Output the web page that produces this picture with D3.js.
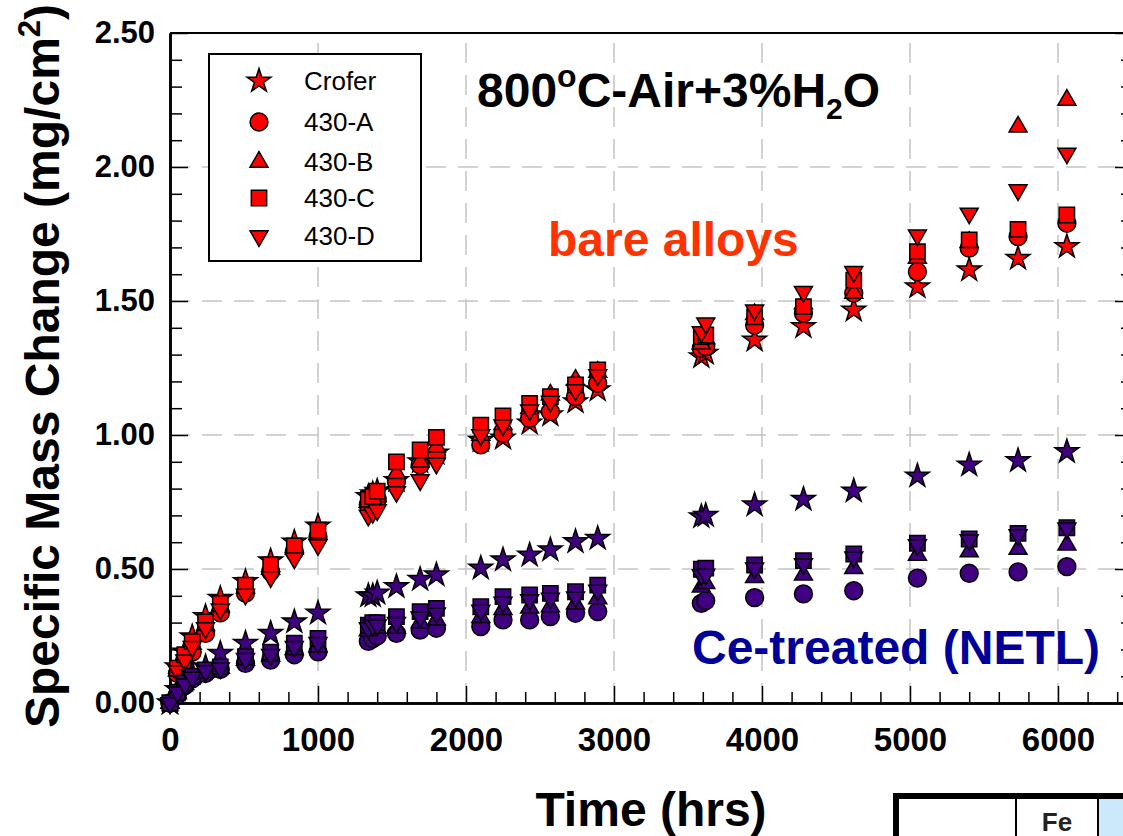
<!DOCTYPE html>
<html>
<head>
<meta charset="utf-8">
<script src="https://cdn.jsdelivr.net/npm/d3@7"></script>
<style>
body { margin: 0; background: #fff; }
text { font-family: "Liberation Sans", Arial, sans-serif; }
</style>
</head>
<body>
<div id="chart"></div>
<script>
// Exposure times (hrs), shared by every series
var times = [0, 50, 100, 150, 240, 340, 510, 680, 840, 1000, 1340, 1370, 1400, 1530, 1690, 1800,
    2100, 2250, 2430, 2570, 2740, 2890, 3590, 3620, 3950, 4280, 4620, 5050, 5400, 5730, 6060];

var seriesNames = ['Crofer', '430-A', '430-B', '430-C', '430-D'];

// bare alloys (mg/cm2)
var bareCrofer = [0, 0.135, 0.19, 0.247, 0.322, 0.39, 0.453, 0.53, 0.60, 0.66, 0.77, 0.78, 0.79, 0.83, 0.90, 0.932,
    0.98, 0.988, 1.044, 1.075, 1.124, 1.168, 1.292, 1.305, 1.354, 1.404, 1.466, 1.553, 1.616, 1.659, 1.703];
var bareA = [0, 0.11, 0.15, 0.19, 0.26, 0.336, 0.41, 0.49, 0.565, 0.62, 0.74, 0.75, 0.76, 0.826, 0.888, 0.925,
    0.963, 1.006, 1.062, 1.087, 1.143, 1.193, 1.323, 1.33, 1.41, 1.454, 1.529, 1.609, 1.697, 1.74, 1.79];
var bareB = [0, 0.12, 0.17, 0.22, 0.29, 0.36, 0.43, 0.50, 0.575, 0.63, 0.75, 0.76, 0.77, 0.857, 0.90, 0.956,
    1.0, 1.04, 1.10, 1.15, 1.205, 1.235, 1.34, 1.36, 1.45, 1.49, 1.53, 1.66, 1.72, 2.15, 2.25];
var bareC = [0, 0.13, 0.18, 0.229, 0.303, 0.372, 0.44, 0.515, 0.586, 0.645, 0.76, 0.77, 0.79, 0.90, 0.944, 0.991,
    1.037, 1.071, 1.118, 1.143, 1.187, 1.243, 1.367, 1.373, 1.441, 1.479, 1.578, 1.684, 1.728, 1.767, 1.821];
var bareD = [0, 0.12, 0.16, 0.21, 0.28, 0.35, 0.405, 0.47, 0.54, 0.59, 0.70, 0.71, 0.72, 0.788, 0.832, 0.894,
    1.0, 1.037, 1.093, 1.125, 1.168, 1.224, 1.385, 1.417, 1.466, 1.535, 1.609, 1.746, 1.827, 1.914, 2.051];

// Ce-treated (NETL)
var ceCrofer = [0, 0.05, 0.085, 0.11, 0.135, 0.185, 0.223, 0.26, 0.303, 0.335, 0.40, 0.40, 0.41, 0.434, 0.461, 0.478,
    0.503, 0.534, 0.552, 0.571, 0.602, 0.614, 0.695, 0.70, 0.739, 0.76, 0.791, 0.847, 0.888, 0.904, 0.938];
var ceA = [0, 0.03, 0.065, 0.09, 0.11, 0.125, 0.148, 0.16, 0.18, 0.191, 0.23, 0.24, 0.25, 0.26, 0.272, 0.279,
    0.285, 0.31, 0.31, 0.322, 0.335, 0.341, 0.372, 0.382, 0.393, 0.407, 0.419, 0.466, 0.484, 0.489, 0.509];
var ceB = [0, 0.035, 0.07, 0.095, 0.115, 0.13, 0.16, 0.175, 0.20, 0.21, 0.27, 0.28, 0.28, 0.28, 0.30, 0.31,
    0.32, 0.35, 0.355, 0.36, 0.37, 0.39, 0.434, 0.447, 0.469, 0.478, 0.503, 0.552, 0.565, 0.574, 0.590];
var ceC = [0, 0.04, 0.075, 0.10, 0.123, 0.135, 0.173, 0.19, 0.223, 0.241, 0.29, 0.30, 0.30, 0.322, 0.341, 0.353,
    0.359, 0.397, 0.403, 0.409, 0.415, 0.44, 0.499, 0.503, 0.515, 0.531, 0.556, 0.596, 0.612, 0.633, 0.654];
var ceD = [0, 0.04, 0.07, 0.095, 0.12, 0.13, 0.165, 0.18, 0.21, 0.225, 0.28, 0.29, 0.29, 0.30, 0.32, 0.335,
    0.345, 0.375, 0.385, 0.39, 0.395, 0.42, 0.478, 0.48, 0.503, 0.519, 0.544, 0.590, 0.608, 0.627, 0.652];

var xTicks = [0, 1000, 2000, 3000, 4000, 5000, 6000];
var yTicks = [0, 0.5, 1.0, 1.5, 2.0, 2.5];

// Basic parameters
var WIDTH = 1123,
    HEIGHT = 836;

var RED = '#ff0000',
    PURPLE = '#400080';

var svg = d3.select('#chart')
    .append('svg')
    .attr('width', WIDTH)
    .attr('height', HEIGHT)
    .style('background', '#fff');

var x = d3.scaleLinear().domain([0, 6500]).range([170, 1132]);
var y = d3.scaleLinear().domain([0, 2.5]).range([703, 33]);

// grid lines
svg.append('g')
    .selectAll('line')
    .data(xTicks.slice(1))
    .enter()
    .append('line')
    .attr('x1', function(d) { return x(d); })
    .attr('x2', function(d) { return x(d); })
    .attr('y1', y(0))
    .attr('y2', y(2.5))
    .attr('stroke', '#c4c4c4')
    .attr('stroke-width', 1.5)
    .attr('stroke-dasharray', '20,12');

svg.append('g')
    .selectAll('line')
    .data(yTicks.slice(1, -1))
    .enter()
    .append('line')
    .attr('x1', x(0))
    .attr('x2', x(6500))
    .attr('y1', function(d) { return y(d); })
    .attr('y2', function(d) { return y(d); })
    .attr('stroke', '#c4c4c4')
    .attr('stroke-width', 1.5)
    .attr('stroke-dasharray', '20,12');

// axes, ticks pointing inward
var styleAxis = function(g) {
    g.selectAll('path').attr('stroke', '#000').attr('stroke-width', 2.5);
    g.selectAll('line').attr('stroke', '#000').attr('stroke-width', 1.5);
    g.selectAll('text')
        .attr('fill', '#000')
        .style('font-family', '"Liberation Sans", Arial, sans-serif')
        .style('font-weight', 'bold');
};

var minorX = d3.range(0, 6500, 200).filter(function(d) { return d % 1000 !== 0; });
var minorY = d3.range(1, 25).map(function(d) { return d / 10; }).filter(function(d) { return Math.round(d * 10) % 5 !== 0; });

svg.append('g')
    .attr('transform', 'translate(0,' + y(0) + ')')
    .call(d3.axisBottom(x).tickValues(minorX).tickSize(-11).tickSizeOuter(0).tickFormat(''))
    .call(styleAxis);

svg.append('g')
    .attr('transform', 'translate(0,' + y(0) + ')')
    .call(d3.axisBottom(x).tickValues(xTicks).tickSize(-17).tickSizeOuter(0).tickPadding(25).tickFormat(d3.format('d')))
    .call(styleAxis)
    .selectAll('text').style('font-size', '33px');

svg.append('g')
    .attr('transform', 'translate(' + x(0) + ',0)')
    .call(d3.axisLeft(y).tickValues(minorY).tickSize(-12).tickSizeOuter(0).tickFormat(''))
    .call(styleAxis);

svg.append('g')
    .attr('transform', 'translate(' + x(0) + ',0)')
    .call(d3.axisLeft(y).tickValues(yTicks).tickSize(-18).tickSizeOuter(0).tickPadding(15).tickFormat(d3.format('.2f')))
    .call(styleAxis)
    .selectAll('text').style('font-size', '31px');

// right side ticks
svg.append('g')
    .attr('transform', 'translate(' + x(6500) + ',0)')
    .call(d3.axisRight(y).tickValues(minorY).tickSize(-11).tickSizeOuter(0).tickFormat(''))
    .call(styleAxis);
svg.append('g')
    .attr('transform', 'translate(' + x(6500) + ',0)')
    .call(d3.axisRight(y).tickValues(yTicks).tickSize(-17).tickSizeOuter(0).tickFormat(''))
    .call(styleAxis);

// top frame
svg.append('line')
    .attr('x1', x(0)).attr('x2', x(6500))
    .attr('y1', y(2.5)).attr('y2', y(2.5))
    .attr('stroke', '#000').attr('stroke-width', 2);

// markers
var symbolTypes = [d3.symbolStar, d3.symbolCircle, d3.symbolTriangle, d3.symbolSquare, d3.symbolTriangle];
var symbolSizes = [175, 250, 140, 235, 140];

var marker = function(i) {
    return d3.symbol().type(symbolTypes[i]).size(symbolSizes[i])();
};

var drawGroup = function(group, color) {
    var g = svg.append('g');
    group.forEach(function(values, i) {
        g.selectAll('.s' + i)
            .data(values)
            .enter()
            .append('path')
            .attr('class', 's' + i)
            .attr('d', marker(i))
            .attr('transform', function(d, j) {
                return 'translate(' + x(times[j]) + ',' + y(d) + ')' + (i === 4 ? ' rotate(180)' : '');
            })
            .attr('fill', color)
            .attr('stroke', '#000')
            .attr('stroke-width', 1.5);
    });
};

drawGroup([bareCrofer, bareA, bareB, bareC, bareD], RED);
drawGroup([ceCrofer, ceA, ceB, ceC, ceD], PURPLE);

// legend
var legendRows = [81, 122, 162, 198, 236];
var legend = svg.append('g');
legend.append('rect')
    .attr('x', 209).attr('y', 54)
    .attr('width', 212).attr('height', 207)
    .attr('fill', '#fff')
    .attr('stroke', '#000')
    .attr('stroke-width', 2);

seriesNames.forEach(function(name, i) {
    legend.append('path')
        .attr('d', marker(i))
        .attr('transform', 'translate(259,' + legendRows[i] + ')' + (i === 4 ? ' rotate(180)' : ''))
        .attr('fill', RED)
        .attr('stroke', '#000')
        .attr('stroke-width', 1.5);
    legend.append('text')
        .attr('x', 304)
        .attr('y', legendRows[i])
        .attr('dy', '0.35em')
        .style('font-size', '26px')
        .text(name);
});

// title
var title = svg.append('text')
    .attr('x', 477)
    .attr('y', 107)
    .style('font-size', '48px')
    .style('font-weight', 'bold');
title.append('tspan').text('800');
title.append('tspan').attr('dy', -20).style('font-size', '32px').text('o');
title.append('tspan').attr('dy', 20).text('C-Air+3%H');
title.append('tspan').attr('dy', 12).style('font-size', '30px').text('2');
title.append('tspan').attr('dy', -12).text('O');

svg.append('text')
    .attr('x', 548)
    .attr('y', 256)
    .style('font-size', '48px')
    .style('font-weight', 'bold')
    .attr('fill', '#ff3300')
    .text('bare alloys');

svg.append('text')
    .attr('x', 692)
    .attr('y', 664)
    .style('font-size', '48px')
    .style('font-weight', 'bold')
    .attr('fill', '#000099')
    .text('Ce-treated (NETL)');

// axis titles
svg.append('text')
    .attr('x', 651)
    .attr('y', 826)
    .attr('text-anchor', 'middle')
    .style('font-size', '48px')
    .style('font-weight', 'bold')
    .text('Time (hrs)');

var yTitle = svg.append('text')
    .attr('transform', 'translate(59,366) rotate(-90)')
    .attr('text-anchor', 'middle')
    .style('font-size', '48px')
    .style('font-weight', 'bold');
yTitle.append('tspan').text('Specific Mass Change (mg/cm');
yTitle.append('tspan').attr('dy', -19).style('font-size', '31px').text('2');
yTitle.append('tspan').attr('dy', 19).text(')');

// corner of the table below the chart
var table = svg.append('g');
table.append('rect')
    .attr('x', 1098).attr('y', 796)
    .attr('width', 40).attr('height', 50)
    .attr('fill', '#cce8fb');
table.append('line')
    .attr('x1', 1016).attr('x2', 1016)
    .attr('y1', 796).attr('y2', 836)
    .attr('stroke', '#000').attr('stroke-width', 2);
table.append('line')
    .attr('x1', 1098).attr('x2', 1098)
    .attr('y1', 796).attr('y2', 836)
    .attr('stroke', '#000').attr('stroke-width', 2);
table.append('path')
    .attr('d', 'M896,840 L896,796 L1130,796')
    .attr('fill', 'none')
    .attr('stroke', '#000')
    .attr('stroke-width', 6);
table.append('text')
    .attr('x', 1057)
    .attr('y', 831)
    .attr('text-anchor', 'middle')
    .style('font-size', '26px')
    .style('font-weight', 'bold')
    .attr('fill', '#222')
    .text('Fe');
</script>
</body>
</html>
